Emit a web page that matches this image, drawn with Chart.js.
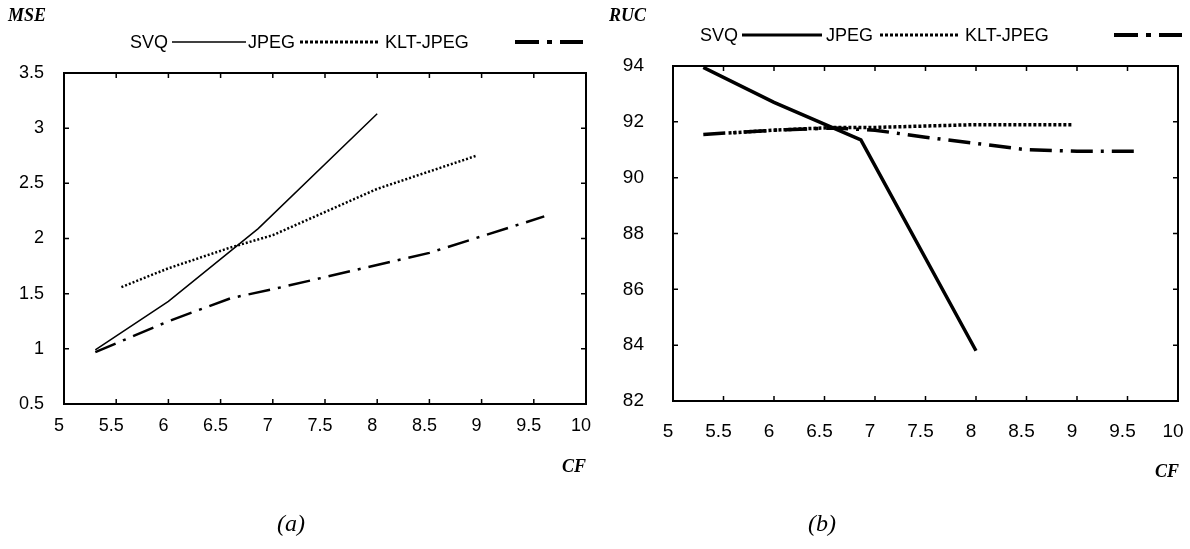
<!DOCTYPE html>
<html>
<head>
<meta charset="utf-8">
<script src="https://cdn.jsdelivr.net/npm/chart.js@4"></script>
<style>
  body { margin: 0; background: #fff; width: 1190px; height: 549px; position: relative; overflow: hidden; }
  .box { position: absolute; top: 0; height: 549px; }
  .lbl { position: absolute; font-family: "Liberation Sans", Arial, sans-serif; font-size: 18px; color: #000; line-height: 20px; white-space: nowrap; }
  .ttl { position: absolute; font-family: "Liberation Serif", "Times New Roman", serif; font-weight: bold; font-style: italic; font-size: 18px; line-height: 20px; }
  .cap { position: absolute; font-family: "Liberation Serif", "Times New Roman", serif; font-style: italic; font-size: 24px; line-height: 26px; }
  svg { position: absolute; }
</style>
</head>
<body>
<div class="box" style="left:0;width:600px"><canvas id="mseChart" width="600" height="549"></canvas></div>
<div class="box" style="left:600px;width:590px"><canvas id="rucChart" width="590" height="549"></canvas></div>

<div class="ttl" style="left:8px;top:5px">MSE</div>
<div class="ttl" style="left:609px;top:5px">RUC</div>
<div class="ttl" style="left:562px;top:456px">CF</div>
<div class="ttl" style="left:1155px;top:461px">CF</div>
<div class="cap" style="left:277px;top:510px">(a)</div>
<div class="cap" style="left:808px;top:510px">(b)</div>

<!-- legend (a) -->
<div class="lbl" style="left:130px;top:32px">SVQ</div>
<svg style="left:172px;top:34px" width="74" height="16"><line x1="0" y1="8" x2="74" y2="8" stroke="#000" stroke-width="1.5"/></svg>
<div class="lbl" style="left:248px;top:32px">JPEG</div>
<svg style="left:300px;top:34px" width="78" height="16"><line x1="0" y1="8" x2="78" y2="8" stroke="#000" stroke-width="3" stroke-dasharray="3 2"/></svg>
<div class="lbl" style="left:385px;top:32px">KLT-JPEG</div>
<svg style="left:515px;top:34px" width="68" height="16"><line x1="0" y1="8" x2="68" y2="8" stroke="#000" stroke-width="4" stroke-dasharray="24 8 5 8"/></svg>

<!-- legend (b) -->
<div class="lbl" style="left:700px;top:25px">SVQ</div>
<svg style="left:742px;top:27px" width="80" height="16"><line x1="0" y1="8" x2="80" y2="8" stroke="#000" stroke-width="3"/></svg>
<div class="lbl" style="left:826px;top:25px">JPEG</div>
<svg style="left:880px;top:27px" width="80" height="16"><line x1="0" y1="8" x2="80" y2="8" stroke="#000" stroke-width="3" stroke-dasharray="3 2"/></svg>
<div class="lbl" style="left:965px;top:25px">KLT-JPEG</div>
<svg style="left:1114px;top:27px" width="68" height="16"><line x1="0" y1="8" x2="68" y2="8" stroke="#000" stroke-width="4" stroke-dasharray="24 8 5 8"/></svg>

<script>
// CF (compression factor) positions of each series
var svqCF  = [5.3, 6.0, 6.86, 8.0];
var jpegCF = [5.55, 6.0, 6.6, 7.0, 8.0, 8.95];
var kltCF  = [5.3, 6.0, 6.6, 7.0, 7.5, 8.5, 9.0, 9.6];

// (a) MSE
var svqMSE  = [0.99, 1.43, 2.09, 3.13];
var jpegMSE = [1.56, 1.73, 1.92, 2.03, 2.45, 2.75];
var kltMSE  = [0.97, 1.25, 1.46, 1.54, 1.65, 1.87, 2.02, 2.2];

// (b) RUC
var svqRUC  = [93.95, 92.7, 91.35, 83.8];
var jpegRUC = [91.6, 91.7, 91.8, 91.8, 91.9, 91.9];
var kltRUC  = [91.55, 91.7, 91.78, 91.7, 91.45, 91.0, 90.95, 90.95];

function pts(xs, ys) {
    return xs.map(function (x, i) { return {x: x, y: ys[i]}; });
}

// box round the plot area with small inward ticks on all four sides
var frame = {
    id: 'frame',
    afterDraw: function (chart) {
        var c = chart.ctx, a = chart.chartArea;
        var xs = chart.scales.x, ys = chart.scales.y;
        c.save();
        c.strokeStyle = '#000';
        c.lineWidth = 2;
        c.strokeRect(a.left, a.top, a.right - a.left, a.bottom - a.top);
        c.lineWidth = 1.5;
        c.beginPath();
        xs.ticks.forEach(function (t) {
            var px = xs.getPixelForValue(t.value);
            c.moveTo(px, a.bottom); c.lineTo(px, a.bottom - 5);
            c.moveTo(px, a.top); c.lineTo(px, a.top + 5);
        });
        ys.ticks.forEach(function (t) {
            var py = ys.getPixelForValue(t.value);
            c.moveTo(a.left, py); c.lineTo(a.left + 5, py);
            c.moveTo(a.right, py); c.lineTo(a.right - 5, py);
        });
        c.stroke();
        c.restore();
    }
};

function makeChart(id, sets, ymin, ymax, ystep, o) {
    return new Chart(document.getElementById(id).getContext('2d'), {
        type: 'line',
        data: { datasets: sets },
        options: {
            responsive: false,
            animation: false,
            layout: { padding: { left: 0, top: o.top, right: o.right, bottom: 0 } },
            plugins: { legend: { display: false }, tooltip: { enabled: false } },
            elements: { point: { radius: 0 }, line: { tension: 0, borderColor: '#000' } },
            scales: {
                x: {
                    type: 'linear', min: 5, max: 10,
                    grid: { display: false, drawTicks: false },
                    border: { display: false },
                    ticks: { stepSize: 0.5, color: '#000', padding: o.xpad, labelOffset: -5,
                             maxRotation: 0, autoSkip: false,
                             callback: function (v) { return String(v); },
                             font: { family: 'Liberation Sans', size: o.fs } },
                    afterFit: function (s) {
                        s.height = 549 - o.bottom;
                        s.paddingLeft = 0; s.paddingRight = 0;
                    }
                },
                y: {
                    type: 'linear', min: ymin, max: ymax,
                    grid: { display: false, drawTicks: false },
                    border: { display: false },
                    ticks: { stepSize: ystep, color: '#000', padding: o.ypad,
                             callback: function (v) { return String(v); },
                             font: { family: 'Liberation Sans', size: o.fs } },
                    afterFit: function (s) {
                        s.width = o.left;
                        s.paddingTop = 0; s.paddingBottom = 0;
                    }
                }
            }
        },
        plugins: [frame]
    });
}

makeChart('mseChart', [
    { label: 'SVQ', data: pts(svqCF, svqMSE), borderColor: '#000', borderWidth: 1.5 },
    { label: 'JPEG', data: pts(jpegCF, jpegMSE), borderColor: '#000', borderWidth: 2.5, borderDash: [2, 2] },
    { label: 'KLT-JPEG', data: pts(kltCF, kltMSE), borderColor: '#000', borderWidth: 2.5, borderDash: [22, 8, 3, 8] }
], 0.5, 3.5, 0.5, { left: 64, top: 73, right: 14, bottom: 404, xpad: 11, ypad: 20, fs: 18 });

makeChart('rucChart', [
    { label: 'SVQ', data: pts(svqCF, svqRUC), borderColor: '#000', borderWidth: 3.5 },
    { label: 'JPEG', data: pts(jpegCF, jpegRUC), borderColor: '#000', borderWidth: 3.5, borderDash: [3, 2] },
    { label: 'KLT-JPEG', data: pts(kltCF, kltRUC), borderColor: '#000', borderWidth: 3.5, borderDash: [22, 8, 3, 8] }
], 82, 94, 2, { left: 73, top: 66, right: 12, bottom: 401, xpad: 19, ypad: 29, fs: 19 });
</script>
</body>
</html>
